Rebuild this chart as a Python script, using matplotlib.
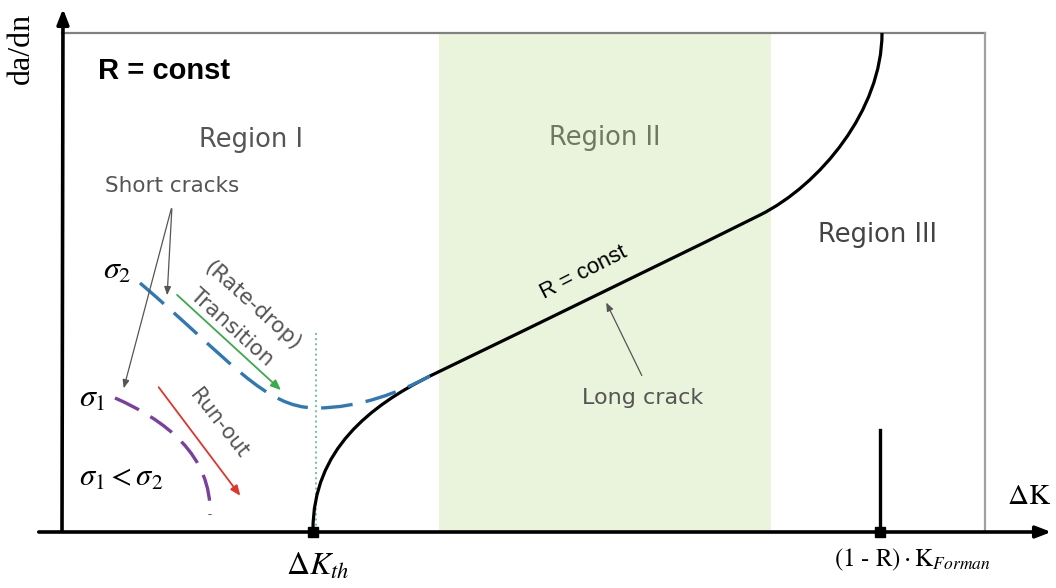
import matplotlib.pyplot as plt
from matplotlib.path import Path
from matplotlib.patches import PathPatch, Rectangle

plt.rcParams['mathtext.fontset'] = 'stix'

# schematic, in pixel units (y grows downward)
axis_y = 532
axis_x = 62
top_y = 33
right_x = 985
region2_x = [439, 771]
dk_th_x = 313
forman_x = 880
forman_top = 430

# long crack curve: cubic bezier control points
long_crack = [(313, 530), (313, 450), (370, 406), (430, 376),
              (550, 318), (700, 245), (760, 215),
              (820, 185), (882, 110), (882, 33)]
long_codes = [Path.MOVETO, Path.CURVE4, Path.CURVE4, Path.CURVE4,
              Path.CURVE4, Path.CURVE4, Path.CURVE4,
              Path.CURVE4, Path.CURVE4, Path.CURVE4]

# short crack sigma_2 (blue dashed)
sigma2_curve = [(140, 283), (230, 360), (265, 408), (316, 408),
                (360, 408), (400, 392), (430, 376)]
sigma2_codes = [Path.MOVETO, Path.CURVE4, Path.CURVE4, Path.CURVE4,
                Path.CURVE4, Path.CURVE4, Path.CURVE4]

# short crack sigma_1 (purple dashed)
sigma1_curve = [(115, 398), (165, 420), (212, 455), (210, 515)]
sigma1_codes = [Path.MOVETO, Path.CURVE4, Path.CURVE4, Path.CURVE4]

region_labels = ["Region I", "Region II", "Region III"]
region_pos = [(251, 140), (605, 138), (877, 235)]

fig = plt.figure(figsize=(10.56, 5.88), dpi=100)
ax = fig.add_axes([0, 0, 1, 1])
ax.set_xlim(0, 1056)
ax.set_ylim(588, 0)
ax.axis('off')

# region II band
ax.add_patch(Rectangle((region2_x[0], top_y), region2_x[1] - region2_x[0],
                       axis_y - top_y, facecolor='#eaf4dc', edgecolor='none', zorder=0))

# frame
ax.plot([axis_x, right_x], [top_y, top_y], color='#808080', lw=1.6, zorder=1)
ax.plot([right_x, right_x], [top_y, axis_y], color='#a0a0a0', lw=1.6, zorder=1)

# axes with arrows
ax.annotate('', xy=(1054, axis_y), xytext=(36, axis_y),
            arrowprops=dict(arrowstyle='-|>,head_length=0.9,head_width=0.35', lw=2.6, color='black'))
ax.annotate('', xy=(axis_x + 1, 6), xytext=(axis_x, axis_y + 2),
            arrowprops=dict(arrowstyle='-|>,head_length=0.9,head_width=0.35', lw=2.6, color='black'))

# curves
ax.add_patch(PathPatch(Path(long_crack, long_codes), facecolor='none', edgecolor='black', lw=2.3, zorder=3))
ax.add_patch(PathPatch(Path(sigma2_curve, sigma2_codes), facecolor='none', edgecolor='#2f78b4',
                       lw=2.4, linestyle=(0, (9.5, 4)), zorder=3))
ax.add_patch(PathPatch(Path(sigma1_curve, sigma1_codes), facecolor='none', edgecolor='#7a3fa0',
                       lw=2.4, linestyle=(0, (8, 4)), zorder=3))

# threshold dotted line and markers
ax.plot([316, 316], [333, axis_y], color='#6cc3a8', lw=1.4, linestyle=':', zorder=2)
ax.plot([forman_x, forman_x], [forman_top, axis_y], color='black', lw=2.4, zorder=3)
ax.plot([dk_th_x, forman_x], [axis_y, axis_y], 's', color='black', ms=7, zorder=4)

# arrows
ax.annotate('', xy=(283, 392), xytext=(175, 293),
            arrowprops=dict(arrowstyle='-|>,head_length=0.6,head_width=0.25', lw=1.3, color='#3aaa4a'))
ax.annotate('', xy=(242, 498), xytext=(157, 385),
            arrowprops=dict(arrowstyle='-|>,head_length=0.6,head_width=0.25', lw=1.3, color='#e0352b'))
ax.annotate('', xy=(167, 298), xytext=(172, 206),
            arrowprops=dict(arrowstyle='-|>,head_length=0.5,head_width=0.2', lw=0.9, color='#555555'))
ax.annotate('', xy=(123, 391), xytext=(172, 206),
            arrowprops=dict(arrowstyle='-|>,head_length=0.5,head_width=0.2', lw=0.9, color='#555555'))
ax.annotate('', xy=(605, 300), xytext=(643, 378),
            arrowprops=dict(arrowstyle='-|>,head_length=0.5,head_width=0.2', lw=0.9, color='#555555'))

# texts
sans = 'DejaVu Sans'
for lab, (x, y), c in zip(region_labels, region_pos, ['#555555', '#6b7a60', '#444444']):
    ax.text(x, y, lab, ha='center', va='center', fontsize=18.5, color=c, family=sans)

ax.text(98, 71, 'R = const', ha='left', va='center', fontsize=21, fontweight='bold',
        family='Liberation Sans', color='black')
ax.text(21, 48, 'da/dn', rotation=90, ha='center', va='center', fontsize=23,
        family='Liberation Serif')
ax.text(172, 186, 'Short cracks', ha='center', va='center', fontsize=15.5, color='#555555', family=sans)
ax.text(252, 306, '(Rate-drop)', rotation=-42, rotation_mode='anchor', ha='center', va='center',
        fontsize=15.5, color='#555555', family=sans)
ax.text(232, 327, 'Transition', rotation=-42, rotation_mode='anchor', ha='center', va='center',
        fontsize=15.5, color='#555555', family=sans)
ax.text(219, 423, 'Run-out', rotation=-52, rotation_mode='anchor', ha='center', va='center',
        fontsize=15, color='#555555', family=sans)
ax.text(584, 273, 'R = const', rotation=27, rotation_mode='anchor', ha='center', va='center',
        fontsize=16, color='black', family='Liberation Sans')
ax.text(643, 398, 'Long crack', ha='center', va='center', fontsize=16, color='#555555', family=sans)

ax.text(117, 270, r'$\sigma_2$', ha='center', va='center', fontsize=23)
ax.text(92, 398, r'$\sigma_1$', ha='center', va='center', fontsize=23)
ax.text(121, 478, r'$\sigma_1 < \sigma_2$', ha='center', va='center', fontsize=22)

ax.text(1029, 496, r'$\Delta\mathrm{K}$', ha='center', va='center', fontsize=21)
ax.text(318, 566, r'$\Delta K_{th}$', ha='center', va='center', fontsize=23)
ax.text(912, 560, r'$(1\ \text{-}\ \mathrm{R})\cdot\mathrm{K}_{Forman}$', ha='center', va='center', fontsize=18)

fig.savefig('out.png', dpi=100)
